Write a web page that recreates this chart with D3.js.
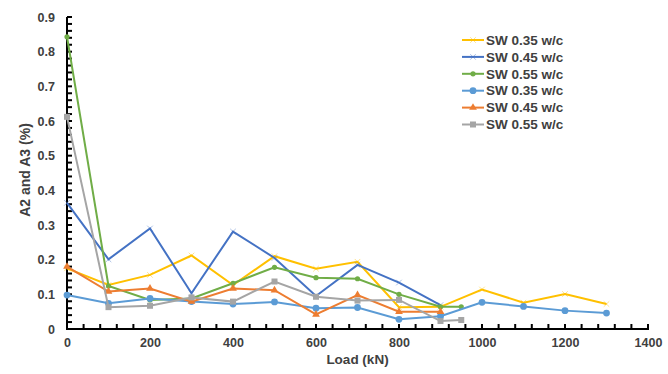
<!DOCTYPE html>
<html>
<head>
<meta charset="utf-8">
</head>
<body style="margin:0">
<svg width="668" height="374"></svg>
<script src="https://cdnjs.cloudflare.com/ajax/libs/d3/7.8.5/d3.min.js"></script>
<script>
// data
const seriesNames = ["SW 0.35 w/c", "SW 0.45 w/c", "SW 0.55 w/c", "SW 0.35 w/c", "SW 0.45 w/c", "SW 0.55 w/c"];
const loadsLong = [0, 100, 200, 300, 400, 500, 600, 700, 800, 900, 1000, 1100, 1200, 1300];
const loadsMid = [0, 100, 200, 300, 400, 500, 600, 700, 800, 900];
const loadsShort = [0, 100, 200, 300, 400, 500, 600, 700, 800, 900, 950];
const sw035a = [0.175, 0.127, 0.156, 0.212, 0.127, 0.21, 0.174, 0.194, 0.063, 0.064, 0.114, 0.076, 0.101, 0.072];
const sw045a = [0.364, 0.201, 0.29, 0.103, 0.281, 0.205, 0.095, 0.185, 0.134, 0.069];
const sw055a = [0.843, 0.124, 0.084, 0.088, 0.132, 0.178, 0.148, 0.145, 0.1, 0.064, 0.064];
const sw035b = [0.098, 0.074, 0.088, 0.079, 0.072, 0.078, 0.06, 0.062, 0.028, 0.037, 0.077, 0.065, 0.053, 0.046];
const sw045b = [0.18, 0.108, 0.117, 0.079, 0.117, 0.112, 0.042, 0.098, 0.05, 0.05];
const sw055b = [0.612, 0.063, 0.067, 0.091, 0.079, 0.137, 0.093, 0.082, 0.084, 0.023, 0.026];
const xTicks = [0, 200, 400, 600, 800, 1000, 1200, 1400];
const yTicks = [0, 0.1, 0.2, 0.3, 0.4, 0.5, 0.6, 0.7, 0.8, 0.9];

const series = [
  { name: seriesNames[0], x: loadsLong, y: sw035a, color: "#FFC000", marker: "x" },
  { name: seriesNames[1], x: loadsMid, y: sw045a, color: "#4472C4", marker: "x" },
  { name: seriesNames[2], x: loadsShort, y: sw055a, color: "#70AD47", marker: "dot" },
  { name: seriesNames[3], x: loadsLong, y: sw035b, color: "#5B9BD5", marker: "circle" },
  { name: seriesNames[4], x: loadsMid, y: sw045b, color: "#ED7D31", marker: "triangle" },
  { name: seriesNames[5], x: loadsShort, y: sw055b, color: "#A5A5A5", marker: "square" }
];

const svg = d3.select("svg");
const margin = { left: 67, right: 20, top: 17, bottom: 45 };
const width = 668 - margin.left - margin.right;
const height = 374 - margin.top - margin.bottom;
const fontAxis = "'Liberation Sans', Arial, sans-serif";

// scales in page coordinates
const x = d3.scaleLinear().domain([0, 1400]).range([margin.left, margin.left + width]);
const y = d3.scaleLinear().domain([0, 0.9]).range([margin.top + height, margin.top]);

// tick labels
const xAxis = svg.append("g")
  .attr("transform", "translate(0," + (margin.top + height) + ")")
  .call(d3.axisBottom(x).tickValues(xTicks).tickSize(0).tickPadding(9).tickFormat(d => String(d)));
const yAxis = svg.append("g")
  .attr("transform", "translate(" + margin.left + ",0)")
  .call(d3.axisLeft(y).tickValues(yTicks).tickSize(0).tickPadding(12)
    .tickFormat(d => d === 0 ? "0" : d.toFixed(1)));
[xAxis, yAxis].forEach(a => {
  a.select(".domain").remove();
  a.selectAll("text").attr("font-size", 12.5).attr("font-weight", "bold").attr("fill", "#404040")
    .attr("font-family", fontAxis);
});

// axis lines
svg.append("line")
  .attr("x1", x(0) - 1).attr("x2", x(1400) + 1).attr("y1", y(0)).attr("y2", y(0))
  .attr("stroke", "#000").attr("stroke-width", 2);
svg.append("line")
  .attr("x1", x(0)).attr("x2", x(0)).attr("y1", y(0)).attr("y2", y(0.9))
  .attr("stroke", "#000").attr("stroke-width", 2);

// minor ticks, pointing inside the plot
const xMinor = d3.range(40, 1401, 40);
const yMinor = d3.range(1, 46).map(i => i * 0.02);
svg.selectAll("rect.xminor")
  .data(xMinor).enter().append("rect")
  .attr("class", "xminor")
  .attr("x", d => x(d) - 1).attr("y", y(0) - 5)
  .attr("width", 2).attr("height", 5)
  .attr("fill", "#000");
svg.selectAll("rect.yminor")
  .data(yMinor).enter().append("rect")
  .attr("class", "yminor")
  .attr("x", x(0)).attr("y", d => y(d) - 1)
  .attr("width", 5).attr("height", 2)
  .attr("fill", "#000");

// axis titles
svg.append("text")
  .attr("x", x(700)).attr("y", 364).attr("font-family", fontAxis)
  .attr("text-anchor", "middle").attr("font-size", 13.5).attr("font-weight", "bold").attr("fill", "#404040")
  .text("Load (kN)");
svg.append("text")
  .attr("transform", "translate(30,170) rotate(-90)").attr("font-family", fontAxis)
  .attr("text-anchor", "middle").attr("font-size", 14).attr("font-weight", "bold").attr("fill", "#404040")
  .text("A2 and A3 (%)");

const line = d3.line().x(d => x(d[0])).y(d => y(d[1]));

function drawMarker(sel, type, color) {
  if (type === "x") {
    sel.append("path").attr("d", d3.symbol(d3.symbolTimes, 22)())
      .attr("fill", "none").attr("stroke", color).attr("stroke-opacity", 0.45).attr("stroke-width", 1);
  } else if (type === "dot") {
    sel.append("circle").attr("r", 2.6).attr("fill", color);
  } else if (type === "circle") {
    sel.append("circle").attr("r", 3.4).attr("fill", color);
  } else if (type === "triangle") {
    sel.append("path").attr("d", d3.symbol(d3.symbolTriangle, 26)()).attr("fill", color);
  } else if (type === "square") {
    sel.append("rect").attr("x", -3).attr("y", -3).attr("width", 6).attr("height", 6).attr("fill", color);
  }
}

series.forEach(s => {
  const pts = s.x.map((v, i) => [v, s.y[i]]);
  svg.append("path").datum(pts)
    .attr("d", line).attr("fill", "none")
    .attr("stroke", s.color).attr("stroke-width", 2);
  svg.append("g").selectAll("g").data(pts).enter().append("g")
    .attr("transform", d => "translate(" + x(d[0]) + "," + y(d[1]) + ")")
    .each(function () { drawMarker(d3.select(this), s.marker, s.color); });
});

// legend
const legend = svg.append("g").attr("transform", "translate(462,40)");
series.forEach((s, i) => {
  const row = legend.append("g").attr("transform", "translate(0," + (i * 16.9) + ")");
  row.append("line").attr("x1", 0).attr("x2", 22).attr("stroke", s.color).attr("stroke-width", 2);
  drawMarker(row.append("g").attr("transform", "translate(11,0)"), s.marker, s.color);
  row.append("text").attr("x", 24).attr("dy", "0.35em")
    .attr("font-family", fontAxis).attr("font-size", 13.5).attr("font-weight", "bold")
    .attr("fill", "#404040").text(s.name);
});
</script>
</body>
</html>
